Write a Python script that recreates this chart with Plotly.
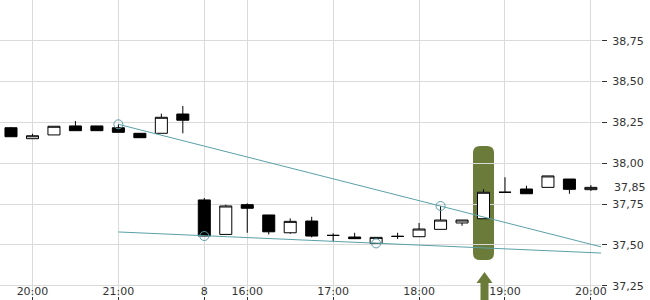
import plotly.graph_objects as go

# 15-minute candles: day 7 from 19:45, day 8 from 15:30
times = ["19:45", "20:00", "20:15", "20:30", "20:45", "21:00", "21:15", "21:30", "21:45",
         "15:30", "15:45", "16:00", "16:15", "16:30", "16:45", "17:00", "17:15", "17:30",
         "17:45", "18:00", "18:15", "18:30", "18:45", "19:00", "19:15", "19:30", "19:45", "20:00"]
opens = [38.217, 38.150, 38.173, 38.228, 38.228, 38.217, 38.183, 38.183, 38.301,
         37.775, 37.564, 37.746, 37.683, 37.574, 37.646, 37.558, 37.548, 37.509,
         37.552, 37.550, 37.595, 37.634, 37.660, 37.822, 37.842, 37.852, 37.903, 37.838]
highs = [38.222, 38.180, 38.226, 38.258, 38.228, 38.238, 38.183, 38.303, 38.350,
         37.787, 37.746, 37.754, 37.683, 37.662, 37.672, 37.571, 37.574, 37.546,
         37.574, 37.634, 37.738, 37.652, 37.840, 37.914, 37.862, 37.922, 37.903, 37.866]
lows = [38.162, 38.150, 38.173, 38.199, 38.199, 38.189, 38.156, 38.183, 38.183,
        37.554, 37.564, 37.574, 37.564, 37.568, 37.546, 37.522, 37.538, 37.509,
        37.536, 37.550, 37.595, 37.617, 37.660, 37.822, 37.813, 37.852, 37.813, 37.830]
closes = [38.162, 38.168, 38.226, 38.199, 38.199, 38.189, 38.156, 38.281, 38.263,
          37.554, 37.738, 37.724, 37.580, 37.644, 37.554, 37.558, 37.538, 37.546,
          37.552, 37.597, 37.652, 37.652, 37.822, 37.822, 37.813, 37.922, 37.840, 37.852]

# x-axis ticks (index positions) and labels
x_tick_pos = [1, 5, 9, 11, 15, 19, 23, 27]
x_tick_labels = ["20:00", "21:00", "8", "16:00", "17:00", "18:00", "19:00", "20:00"]

# y-axis ticks
y_tick_vals = [37.25, 37.50, 37.75, 38.00, 38.25, 38.50, 38.75]
y_tick_labels = ["37,25", "37,50", "37,75", "38,00", "38,25", "38,50", "38,75"]
last_price = 37.852
last_price_label = "37,85"

# trend lines (index, price)
trend1_x = [5, 27.47]
trend1_y = [38.238, 37.488]
trend2_x = [5, 27.47]
trend2_y = [37.579, 37.450]
touch_x = [5, 20, 9, 17]
touch_y = [38.238, 37.738, 37.554, 37.509]

highlight_idx = 22
highlight_top = 38.105
highlight_bottom = 37.407

x = list(range(len(times)))
teal = "#5aa0a8"
olive = "#6b7c3a"

fig = go.Figure()
fig.add_trace(go.Candlestick(
    x=x, open=opens, high=highs, low=lows, close=closes,
    increasing=dict(line=dict(color="black", width=1), fillcolor="white"),
    decreasing=dict(line=dict(color="black", width=1), fillcolor="black"),
    whiskerwidth=0, hoverinfo="skip", showlegend=False,
))
fig.add_trace(go.Scatter(x=trend1_x, y=trend1_y, mode="lines",
                         line=dict(color=teal, width=1), hoverinfo="skip", showlegend=False))
fig.add_trace(go.Scatter(x=trend2_x, y=trend2_y, mode="lines",
                         line=dict(color=teal, width=1), hoverinfo="skip", showlegend=False))
fig.add_trace(go.Scatter(x=touch_x, y=touch_y, mode="markers",
                         marker=dict(symbol="circle-open", size=9, color=teal, line=dict(width=1)),
                         hoverinfo="skip", showlegend=False))

# highlight rounded rectangle behind the candle
mid = (highlight_top + highlight_bottom) / 2
fig.add_shape(type="path", xref="x", yref="y", xsizemode="pixel", ysizemode="pixel",
              xanchor=highlight_idx, yanchor=mid,
              path="M -10.5,-50 L -10.5,50 Q -10.5,57 -3.5,57 L 3.5,57 Q 10.5,57 10.5,50 "
                   "L 10.5,-50 Q 10.5,-57 3.5,-57 L -3.5,-57 Q -10.5,-57 -10.5,-50 Z",
              fillcolor=olive, line=dict(width=0), layer="below")
# arrow below
fig.add_shape(type="path", xref="x", yref="paper", xsizemode="pixel", ysizemode="pixel",
              xanchor=highlight_idx, yanchor=0,
              path="M 1,24 L 9,13 L 5,13 L 5,-4 L -3,-4 L -3,13 L -7,13 Z",
              fillcolor=olive, line=dict(width=0), layer="above")

fig.add_annotation(x=1, xref="paper", y=last_price, yref="y", text=last_price_label,
                   showarrow=False, xanchor="left", xshift=11,
                   font=dict(family="DejaVu Sans", size=11, color="#333"))

fig.update_layout(
    width=650, height=300,
    margin=dict(l=0, r=49, t=0, b=4),
    paper_bgcolor="white", plot_bgcolor="white",
    boxgap=0.44, boxgroupgap=0,
    font=dict(family="DejaVu Sans", size=11, color="#333"),
    xaxis=dict(range=[-0.512, 27.47], rangeslider=dict(visible=False),
               tickvals=x_tick_pos, ticktext=x_tick_labels,
               showgrid=True, gridcolor="#dadada", gridwidth=1, zeroline=False,
               showline=False, ticks="outside", ticklen=4, tickcolor="#333",
               ticklabelstandoff=-19, fixedrange=True),
    yaxis=dict(range=[37.187, 38.999], side="right",
               tickvals=y_tick_vals, ticktext=y_tick_labels,
               showgrid=True, gridcolor="#dadada", gridwidth=1, zeroline=False,
               showline=False, ticks="outside", ticklen=5, tickcolor="#333",
               ticklabelstandoff=3, fixedrange=True),
)

fig.write_html("out.html")
